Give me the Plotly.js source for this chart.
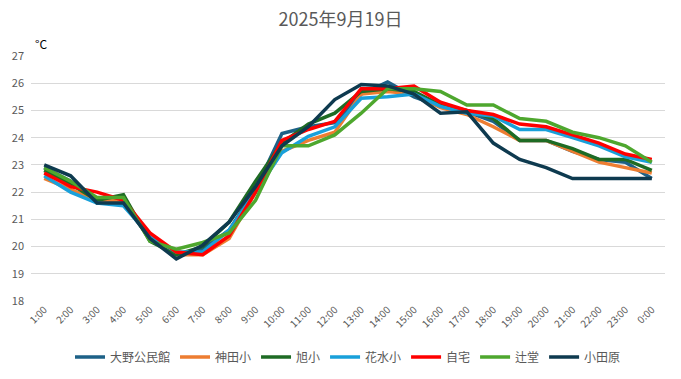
<!DOCTYPE html>
<html>
<head>
<meta charset="utf-8">
<script src="https://cdn.plot.ly/plotly-3.0.1.min.js"></script>
<style>
html,body{margin:0;padding:0;background:#fff;}
#chart{width:681px;height:379px;outline:1px solid #d9d9d9;outline-offset:-1px;}
</style>
</head>
<body>
<div id="chart"></div>
<script>
const hours = ["1:00","2:00","3:00","4:00","5:00","6:00","7:00","8:00","9:00","10:00","11:00","12:00","13:00","14:00","15:00","16:00","17:00","18:00","19:00","20:00","21:00","22:00","23:00","0:00"];

const seriesNames = ["大野公民館","神田小","旭小","花水小","自宅","辻堂","小田原"];

const oono    = [22.9,22.4,21.6,21.6,20.3,19.7,19.9,20.6,22.1,24.15,24.4,24.55,25.6,26.05,25.5,25.15,24.95,24.6,23.9,23.9,23.5,23.2,23.1,22.5];
const kanda   = [22.5,22.1,21.7,21.7,20.4,19.7,19.7,20.3,22.0,23.5,23.9,24.2,25.6,25.7,25.6,25.1,24.85,24.4,23.9,23.9,23.5,23.1,22.9,22.7];
const asahi   = [22.8,22.3,21.7,21.9,20.2,19.7,20.0,20.9,22.4,23.8,24.5,24.9,25.7,25.8,25.7,25.2,25.0,24.7,23.9,23.9,23.6,23.2,23.2,22.8];
const hanamizu= [22.6,22.0,21.6,21.5,20.4,19.8,19.8,20.6,22.0,23.45,24.05,24.4,25.45,25.5,25.6,25.15,24.9,24.8,24.3,24.3,24.0,23.7,23.3,23.1];
const jitaku  = [22.7,22.2,22.0,21.7,20.5,19.8,19.7,20.4,22.0,23.9,24.3,24.6,25.8,25.8,25.9,25.3,25.0,24.85,24.5,24.4,24.1,23.8,23.4,23.2];
const tsujido = [22.9,22.4,21.8,21.8,20.2,19.9,20.15,20.5,21.7,23.7,23.7,24.1,24.9,25.8,25.8,25.7,25.2,25.2,24.7,24.6,24.2,24.0,23.7,23.1];
const odawara = [23.0,22.6,21.6,21.6,20.3,19.55,20.05,20.9,22.2,23.7,24.4,25.4,25.95,25.9,25.6,24.9,24.95,23.8,23.2,22.9,22.5,22.5,22.5,22.5];

const values = [oono,kanda,asahi,hanamizu,jitaku,tsujido,odawara];
const colors = ["#1D6187","#ED7D31","#1E6B24","#19A0DA","#FF0000","#4EA72E","#0E3A4F"];

const yTicks = [18,19,20,21,22,23,24,25,26,27];

const traces = seriesNames.map((n,i)=>({
  type:'scatter', mode:'lines', name:n,
  x: hours, y: values[i],
  line:{color:colors[i], width:3.5}
}));

const font = "'Noto Sans CJK JP', 'Noto Sans', sans-serif";

const layout = {
  width:681, height:379,
  margin:{l:31, r:16, t:56, b:78, autoexpand:false},
  paper_bgcolor:'#ffffff', plot_bgcolor:'#ffffff',
  font:{family:font, color:'#595959', size:11},
  title:{text:'2025年9月19日', x:0.5, xanchor:'center', y:0.947, yanchor:'middle', font:{family:font, size:18, color:'#595959'}},
  showlegend:true,
  legend:{orientation:'h', x:0.5, xanchor:'center', y:-0.229, yanchor:'middle', font:{family:font, size:12, color:'#595959'}, itemwidth:30, tracegroupgap:0},
  xaxis:{type:'category', range:[-0.5,23.5], tickangle:-45, showgrid:false, showline:false, zeroline:false, ticks:'', tickfont:{size:10, color:'#595959'}, fixedrange:true},
  yaxis:{range:[18,27], tickvals:yTicks, ticktext:yTicks.map(String), showgrid:true, gridcolor:'#d9d9d9', gridwidth:1, zeroline:false, showline:false, ticks:'', tickfont:{size:11, color:'#595959'}, ticklabelstandoff:6},
  annotations:[{text:'°C', xref:'paper', yref:'paper', x:0.0, y:1.0, xanchor:'left', yanchor:'bottom', yshift:2, xshift:2, showarrow:false, font:{family:font, size:12, color:'#000000'}}]
};

Plotly.newPlot('chart', traces, layout, {displayModeBar:false, staticPlot:true});
</script>
</body>
</html>
